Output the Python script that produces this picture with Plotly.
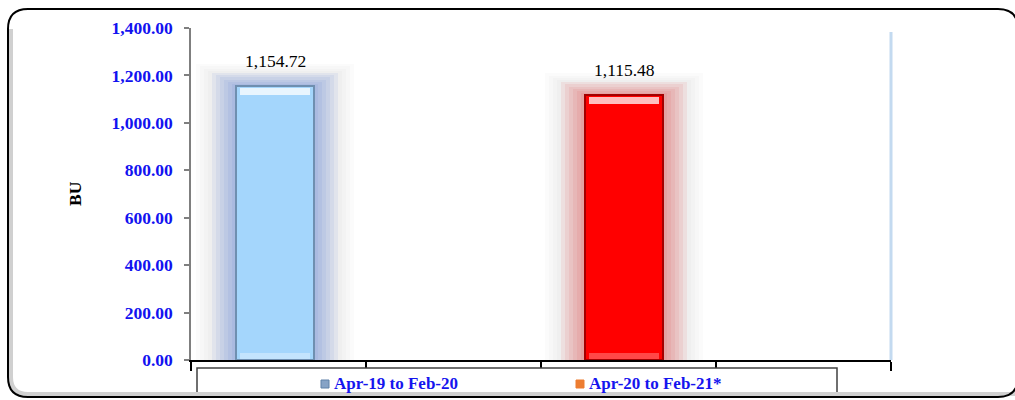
import plotly.graph_objects as go

# ---- data ----
series_names = ["Apr-19 to Feb-20", "Apr-20 to Feb-21*"]
series_values = [1154.72, 1115.48]
value_labels = ["1,154.72", "1,115.48"]
slots = ["Apr-19 to Feb-20", "gap1", "Apr-20 to Feb-21*", "gap2"]
y_ticks = [0, 200, 400, 600, 800, 1000, 1200, 1400]
y_title = "BU"

# ---- styles ----
bar_fill = ["#a4d6fc", "#ff0000"]
bar_edge = ["#6f8fb0", "#a40000"]
bottom_bevel = ["rgba(255,255,255,0.35)", "rgba(255,110,110,0.65)"]
glow_rgb = [(80, 115, 205), (215, 55, 55)]
legend_colors = ["#86a3c6", "#ed7d31"]
legend_edges = ["#5f81a8", "#ed7d31"]

W, H = 1015, 400
PL, PR, PT, PB = 191, 891, 28, 360
YMAX = 1400


def fx(px):
    return (px - PL) / (PR - PL)


def fy(py):
    return (PB - py) / (PB - PT)


units_per_px = YMAX / (PB - PT)
slot_px = (PR - PL) / len(slots)
bw = 78 / slot_px
shift = [-3.5 / slot_px, -4.5 / slot_px]   # small horizontal nudge of each bar

fig = go.Figure()

# glow layers
K = 10
for i, (name, v) in enumerate(zip(series_names, series_values)):
    r, g, b = glow_rgb[i]
    for k in range(K, 0, -1):
        if k > 6:
            col = "rgba(150,150,150,0.04)"
        else:
            col = f"rgba({r},{g},{b},0.085)"
        wk = bw + k * 2 * 4 / slot_px
        fig.add_trace(go.Bar(
            x=[name], y=[v + k * 2.2 * units_per_px],
            width=wk, offset=-wk / 2 + shift[i],
            marker=dict(color=col, line=dict(width=0)),
            showlegend=False, hoverinfo="skip"))

# main bars with bevel strips
for i, (name, v) in enumerate(zip(series_names, series_values)):
    fig.add_trace(go.Bar(
        x=[name], y=[v], width=bw, offset=-bw / 2 + shift[i], name=name,
        marker=dict(color=bar_fill[i], line=dict(color=bar_edge[i], width=2)),
        showlegend=False))
    strip = 7 * units_per_px
    ws = bw - 8 / slot_px
    fig.add_trace(go.Bar(
        x=[name], y=[strip], base=[v - strip - 1.5 * units_per_px],
        width=ws, offset=-ws / 2 + shift[i],
        marker=dict(color="rgba(255,255,255,0.75)", line=dict(width=0)),
        showlegend=False, hoverinfo="skip"))
    fig.add_trace(go.Bar(
        x=[name], y=[6 * units_per_px], base=[1.5 * units_per_px],
        width=ws, offset=-ws / 2 + shift[i],
        marker=dict(color=bottom_bevel[i], line=dict(width=0)),
        showlegend=False, hoverinfo="skip"))

annotations = []
for i, (name, v, lab) in enumerate(zip(series_names, series_values, value_labels)):
    annotations.append(dict(
        x=name, y=v, xref="x", yref="y", text=lab, showarrow=False,
        yanchor="bottom", yshift=13, xshift=shift[i] * slot_px,
        font=dict(family="Liberation Serif", size=17.5, color="black")))

# y-axis title
annotations.append(dict(
    x=fx(75), y=0.5, xref="paper", yref="paper", text=f"<b>{y_title}</b>",
    textangle=-90, showarrow=False, xanchor="center", yanchor="middle",
    font=dict(family="Liberation Serif", size=17.5, color="black")))

# custom legend
shapes = []
shapes.append(dict(type="rect", xref="paper", yref="paper",
                   x0=fx(197), x1=fx(837), y0=fy(397), y1=fy(368),
                   line=dict(color="#404040", width=1.5), fillcolor="white",
                   layer="above"))
leg_marker_x = [321, 576]
for i, name in enumerate(series_names):
    mx = leg_marker_x[i]
    shapes.append(dict(type="rect", xref="paper", yref="paper",
                       x0=fx(mx), x1=fx(mx + 8), y0=fy(388), y1=fy(380),
                       line=dict(color=legend_edges[i], width=1),
                       fillcolor=legend_colors[i], layer="above"))
    annotations.append(dict(
        x=fx(mx + 11), y=fy(383.5), xref="paper", yref="paper",
        text=f"<b>{name}</b>", showarrow=False, xanchor="left", yanchor="middle",
        font=dict(family="Liberation Serif", size=17, color="#1515ee")))

# right light-blue edge
shapes.append(dict(type="line", xref="paper", yref="paper",
                   x0=1, x1=1, y0=0, y1=fy(32),
                   line=dict(color="#c3daf0", width=3), layer="below"))

# outer rounded frame with shadow
L, R, T, B, rad = 8, 1018, 9, 397, 20


def frame_path(l, r, t, b, rr):
    return (f"M {fx(l)},{fy(t + rr)} Q {fx(l)},{fy(t)} {fx(l + rr)},{fy(t)} "
            f"L {fx(r - rr)},{fy(t)} Q {fx(r)},{fy(t)} {fx(r)},{fy(t + rr)} "
            f"L {fx(r)},{fy(b - rr)} Q {fx(r)},{fy(b)} {fx(r - rr)},{fy(b)} "
            f"L {fx(l + rr)},{fy(b)} Q {fx(l)},{fy(b)} {fx(l)},{fy(b - rr)} Z")


shapes.append(dict(type="path", xref="paper", yref="paper",
                   path=(f"M {fx(L + 3)},{fy(T + rad)} L {fx(L + 3)},{fy(B - rad)} "
                         f"Q {fx(L + 3)},{fy(B - 3)} {fx(L + rad)},{fy(B - 3)} "
                         f"L {fx(R)},{fy(B - 3)}"),
                   line=dict(color="#d0d0d0", width=4), layer="above"))
shapes.append(dict(type="path", xref="paper", yref="paper",
                   path=frame_path(L, R, T, B, rad),
                   line=dict(color="black", width=2), layer="above"))

fig.update_layout(
    width=W, height=H,
    margin=dict(l=PL, r=W - PR, t=PT, b=H - PB, autoexpand=False),
    paper_bgcolor="white", plot_bgcolor="white",
    barmode="overlay", bargap=0,
    showlegend=False,
    shapes=shapes, annotations=annotations,
    xaxis=dict(type="category", categoryorder="array", categoryarray=slots,
               range=[-0.5, len(slots) - 0.5], showticklabels=False,
               tickson="boundaries", ticks="outside", ticklen=9,
               tickcolor="black", tickwidth=2, showline=True,
               linecolor="black", linewidth=2, showgrid=False, zeroline=False,
               fixedrange=True),
    yaxis=dict(range=[0, YMAX], tickvals=y_ticks, tickformat=",.2f",
               ticks="outside", ticklen=5, tickcolor="#7f7f7f", tickwidth=1.5,
               showline=True, linecolor="#7f7f7f", linewidth=1.5,
               showgrid=False, zeroline=False, ticklabelstandoff=8,
               tickfont=dict(family="Liberation Serif", size=17.5, color="#1212f0",
                             weight="bold"),
               fixedrange=True),
)

fig.write_html(
    "out.html",
    config={"displayModeBar": False},
    post_script="document.body.style.margin='0';document.body.style.overflow='hidden';",
)
